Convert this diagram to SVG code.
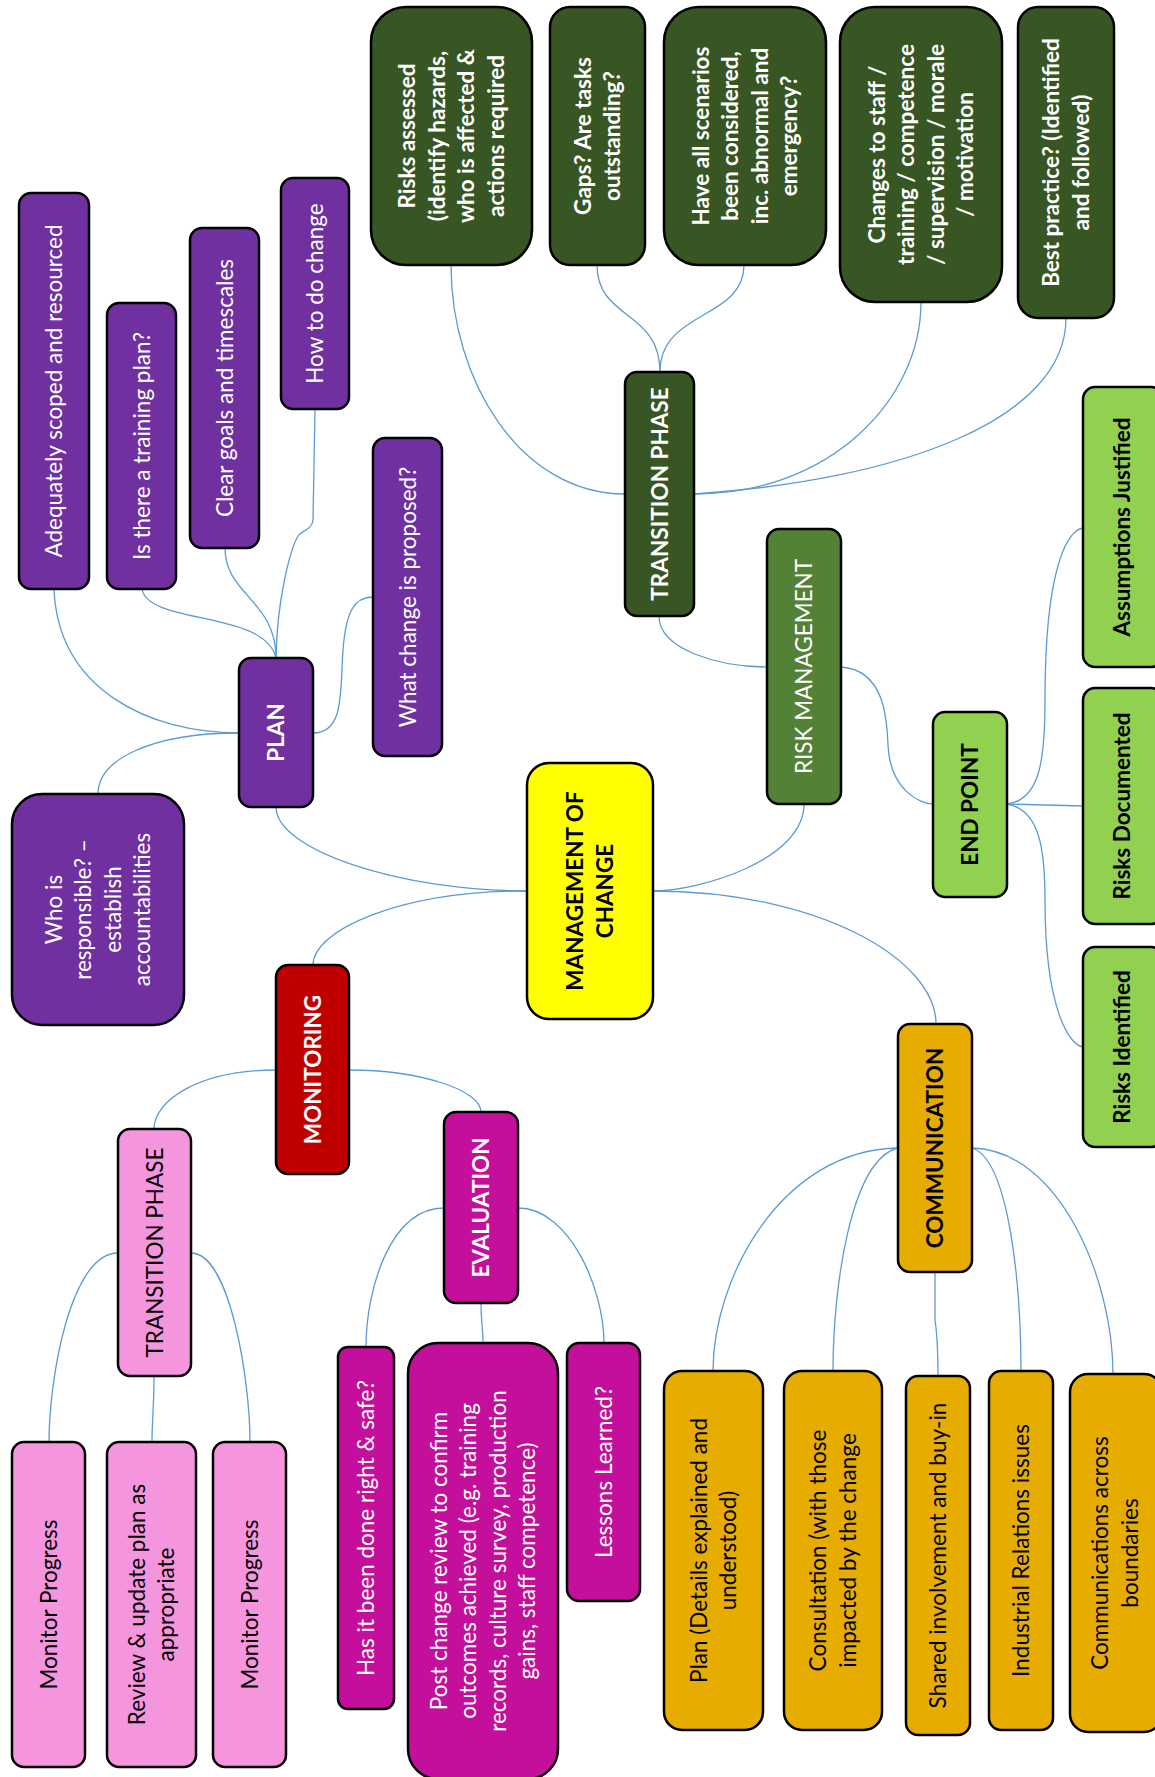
<svg xmlns="http://www.w3.org/2000/svg" width="1155" height="1777" viewBox="0 0 1155 1777">
<style>
g rect{stroke:#000;stroke-width:2.5}
text{font-family:Lato,"Liberation Sans",sans-serif;font-size:22.5px;text-anchor:middle}
.b text{font-weight:bold}
.purple rect{fill:#7030A0}.purple text{fill:#fff}
.dg rect{fill:#375623}.dg text{fill:#fff;font-weight:bold}
.rm rect{fill:#538135}.rm text{fill:#fff}
.lg rect{fill:#92D050}.lg text{fill:#000;font-weight:bold}
.yel rect{fill:#FFFF00}.yel text{fill:#000;font-weight:bold}
.red rect{fill:#C00000}.red text{fill:#fff;font-weight:bold}
.pink rect{fill:#F595DE}.pink text{fill:#000}
.mag rect{fill:#C30F9B}.mag text{fill:#fff}
.gold rect{fill:#E6AD00}.gold text{fill:#000}
#connectors path{fill:none;stroke:#5B9BD5;stroke-width:1.3}
</style>
<rect x="0" y="0" width="1155" height="1777" fill="#fff"/>
<g id="connectors">
<path d="M54,589 C58,690 150,733 239,733"/>
<path d="M239,733 C150,733 98,760 98,794"/>
<path d="M142,589 C148,625 265,610 276,658"/>
<path d="M225,548 C225,595 276,600 276,658"/>
<path d="M315,409 L313,520 C312,530 302,530 298,536 C290,550 277,600 276,658"/>
<path d="M313,733 C345,733 340,690 343,650 C346,610 355,597 373,597"/>
<path d="M276,807 C276,850 400,891 527,891"/>
<path d="M527,891 C400,891 313,930 313,965"/>
<path d="M276,1070 C200,1070 154,1100 154,1129"/>
<path d="M349,1070 C420,1070 481,1090 481,1112"/>
<path d="M118,1253 C70,1253 49,1380 49,1442"/>
<path d="M154,1376 C154,1410 152,1420 152,1442"/>
<path d="M191,1253 C230,1253 250,1380 250,1442"/>
<path d="M444,1208 C390,1208 366,1290 366,1347"/>
<path d="M481,1303 C481,1320 483,1330 483,1343"/>
<path d="M518,1208 C570,1208 604,1290 604,1343"/>
<path d="M625,494 C520,494 451,380 451,265"/>
<path d="M597,265 C597,320 660,310 660,372"/>
<path d="M744,265 C744,320 660,310 660,372"/>
<path d="M694,494 C830,494 921,400 921,302"/>
<path d="M694,494 C900,480 1066,420 1066,318"/>
<path d="M659,616 C659,650 720,667 767,667"/>
<path d="M841,667 C885,670 887,720 888,745 C890,790 920,804 933,804"/>
<path d="M804,804 C804,860 700,891 652,891"/>
<path d="M652,891 C820,891 936,960 936,1024"/>
<path d="M1007,804 C1040,800 1045,760 1045,700 C1045,560 1070,528 1084,528"/>
<path d="M1007,804 L1084,806"/>
<path d="M1007,804 C1040,810 1045,850 1045,900 C1045,1010 1070,1047 1084,1047"/>
<path d="M898,1148 C780,1150 713,1280 713,1371"/>
<path d="M898,1148 C850,1160 833,1290 833,1371"/>
<path d="M935,1272 L935,1320 Q938,1340 938,1376"/>
<path d="M972,1148 C1010,1160 1021,1290 1021,1371"/>
<path d="M972,1148 C1060,1150 1113,1280 1113,1374"/>
</g>
<g id="adequately" class="purple"><rect x="19" y="193" width="70" height="396" rx="12"/><text transform="translate(54 391) rotate(-90)"><tspan x="0" y="8">Adequately scoped and resourced</tspan></text></g>
<g id="training" class="purple"><rect x="107" y="303" width="69" height="286" rx="12"/><text transform="translate(141.5 446) rotate(-90)"><tspan x="0" y="8">Is there a training plan?</tspan></text></g>
<g id="goals" class="purple"><rect x="190" y="228" width="69" height="320" rx="12"/><text transform="translate(224.5 388) rotate(-90)"><tspan x="0" y="8">Clear goals and timescales</tspan></text></g>
<g id="howto" class="purple"><rect x="281" y="178" width="68" height="231" rx="12"/><text transform="translate(315 293.5) rotate(-90)"><tspan x="0" y="8">How to do change</tspan></text></g>
<g id="whatchange" class="purple"><rect x="373" y="438" width="69" height="318" rx="12"/><text transform="translate(407.5 597) rotate(-90)"><tspan x="0" y="8">What change is proposed?</tspan></text></g>
<g id="plan" class="purple b"><rect x="239" y="658" width="74" height="149" rx="12"/><text transform="translate(276 732.5) rotate(-90)"><tspan x="0" y="8">PLAN</tspan></text></g>
<g id="who" class="purple"><rect x="12" y="794" width="172" height="231" rx="30"/><text transform="translate(98 909.5) rotate(-90)"><tspan x="0" y="-36.25">Who is</tspan><tspan x="0" y="-6.75">responsible? –</tspan><tspan x="0" y="22.75">establish</tspan><tspan x="0" y="52.25">accountabilities</tspan></text></g>
<g id="risks-assessed" class="dg"><rect x="371" y="7" width="161" height="258" rx="35"/><text transform="translate(451.5 136) rotate(-90)"><tspan x="0" y="-36.25">Risks assessed</tspan><tspan x="0" y="-6.75">(identify hazards,</tspan><tspan x="0" y="22.75">who is affected &amp;</tspan><tspan x="0" y="52.25">actions required</tspan></text></g>
<g id="gaps" class="dg"><rect x="550" y="7" width="95" height="258" rx="20"/><text transform="translate(597.5 136) rotate(-90)"><tspan x="0" y="-6.75">Gaps? Are tasks</tspan><tspan x="0" y="22.75">outstanding?</tspan></text></g>
<g id="scenarios" class="dg"><rect x="664" y="7" width="162" height="258" rx="35"/><text transform="translate(745 136) rotate(-90)"><tspan x="0" y="-36.25">Have all scenarios</tspan><tspan x="0" y="-6.75">been considered,</tspan><tspan x="0" y="22.75">inc. abnormal and</tspan><tspan x="0" y="52.25">emergency?</tspan></text></g>
<g id="changes" class="dg"><rect x="840" y="7" width="162" height="295" rx="35"/><text transform="translate(921 154.5) rotate(-90)"><tspan x="0" y="-36.25">Changes to staff /</tspan><tspan x="0" y="-6.75">training / competence</tspan><tspan x="0" y="22.75">/ supervision / morale</tspan><tspan x="0" y="52.25">/ motivation</tspan></text></g>
<g id="best" class="dg"><rect x="1018" y="7" width="96" height="311" rx="20"/><text transform="translate(1066 162.5) rotate(-90)"><tspan x="0" y="-6.75">Best practice? (Identified</tspan><tspan x="0" y="22.75">and followed)</tspan></text></g>
<g id="transition-main" class="dg"><rect x="625" y="372" width="69" height="244" rx="12"/><text transform="translate(659.5 494) rotate(-90)"><tspan x="0" y="8">TRANSITION PHASE</tspan></text></g>
<g id="risk-management" class="rm"><rect x="767" y="529" width="74" height="275" rx="12"/><text transform="translate(804 666.5) rotate(-90)"><tspan x="0" y="8">RISK MANAGEMENT</tspan></text></g>
<g id="end-point" class="lg"><rect x="933" y="712" width="74" height="185" rx="12"/><text transform="translate(970 804.5) rotate(-90)"><tspan x="0" y="8">END POINT</tspan></text></g>
<g id="assumptions" class="lg"><rect x="1083" y="387" width="80" height="280" rx="12"/><text transform="translate(1122 527) rotate(-90)"><tspan x="0" y="8">Assumptions Justified</tspan></text></g>
<g id="documented" class="lg"><rect x="1083" y="688" width="80" height="236" rx="12"/><text transform="translate(1122 806) rotate(-90)"><tspan x="0" y="8">Risks Documented</tspan></text></g>
<g id="identified" class="lg"><rect x="1083" y="947" width="80" height="200" rx="12"/><text transform="translate(1122 1047) rotate(-90)"><tspan x="0" y="8">Risks Identified</tspan></text></g>
<g id="moc" class="yel"><rect x="527" y="763" width="126" height="256" rx="22"/><text transform="translate(590 891) rotate(-90)"><tspan x="0" y="-6.75">MANAGEMENT OF</tspan><tspan x="0" y="22.75">CHANGE</tspan></text></g>
<g id="monitoring" class="red"><rect x="276" y="965" width="73" height="209" rx="12"/><text transform="translate(312.5 1069.5) rotate(-90)"><tspan x="0" y="8">MONITORING</tspan></text></g>
<g id="transition-monitor" class="pink"><rect x="118" y="1129" width="73" height="247" rx="12"/><text transform="translate(154.5 1252.5) rotate(-90)"><tspan x="0" y="8">TRANSITION PHASE</tspan></text></g>
<g id="monitor1" class="pink"><rect x="12" y="1442" width="73" height="325" rx="12"/><text transform="translate(48.5 1604.5) rotate(-90)"><tspan x="0" y="8">Monitor Progress</tspan></text></g>
<g id="review" class="pink"><rect x="107" y="1442" width="89" height="325" rx="12"/><text transform="translate(151.5 1604.5) rotate(-90)"><tspan x="0" y="-6.75">Review &amp; update plan as</tspan><tspan x="0" y="22.75">appropriate</tspan></text></g>
<g id="monitor2" class="pink"><rect x="213" y="1442" width="73" height="325" rx="12"/><text transform="translate(249.5 1604.5) rotate(-90)"><tspan x="0" y="8">Monitor Progress</tspan></text></g>
<g id="evaluation" class="mag b"><rect x="444" y="1112" width="74" height="191" rx="12"/><text transform="translate(481 1207.5) rotate(-90)"><tspan x="0" y="8">EVALUATION</tspan></text></g>
<g id="done-right" class="mag"><rect x="338" y="1347" width="56" height="362" rx="10"/><text transform="translate(366 1528) rotate(-90)"><tspan x="0" y="8">Has it been done right &amp; safe?</tspan></text></g>
<g id="post-change" class="mag"><rect x="408" y="1343" width="150" height="436" rx="30"/><text transform="translate(483 1561) rotate(-90)"><tspan x="0" y="-36.25">Post change review to confirm</tspan><tspan x="0" y="-6.75">outcomes achieved (e.g. training</tspan><tspan x="0" y="22.75">records, culture survey, production</tspan><tspan x="0" y="52.25">gains, staff competence)</tspan></text></g>
<g id="lessons" class="mag"><rect x="567" y="1343" width="73" height="258" rx="12"/><text transform="translate(603.5 1472) rotate(-90)"><tspan x="0" y="8">Lessons Learned?</tspan></text></g>
<g id="communication" class="gold b"><rect x="898" y="1024" width="74" height="248" rx="12"/><text transform="translate(935 1148) rotate(-90)"><tspan x="0" y="8">COMMUNICATION</tspan></text></g>
<g id="plan-details" class="gold"><rect x="664" y="1371" width="99" height="359" rx="18"/><text transform="translate(713.5 1550.5) rotate(-90)"><tspan x="0" y="-6.75">Plan (Details explained and</tspan><tspan x="0" y="22.75">understood)</tspan></text></g>
<g id="consultation" class="gold"><rect x="784" y="1371" width="98" height="359" rx="18"/><text transform="translate(833 1550.5) rotate(-90)"><tspan x="0" y="-6.75">Consultation (with those</tspan><tspan x="0" y="22.75">impacted by the change</tspan></text></g>
<g id="shared" class="gold"><rect x="906" y="1376" width="64" height="359" rx="12"/><text transform="translate(938 1555.5) rotate(-90)"><tspan x="0" y="8">Shared involvement and buy-in</tspan></text></g>
<g id="industrial" class="gold"><rect x="989" y="1371" width="64" height="359" rx="12"/><text transform="translate(1021 1550.5) rotate(-90)"><tspan x="0" y="8">Industrial Relations issues</tspan></text></g>
<g id="across" class="gold"><rect x="1070" y="1374" width="92" height="358" rx="18"/><text transform="translate(1115 1553) rotate(-90)"><tspan x="0" y="-6.75">Communications across</tspan><tspan x="0" y="22.75">boundaries</tspan></text></g>
</svg>
